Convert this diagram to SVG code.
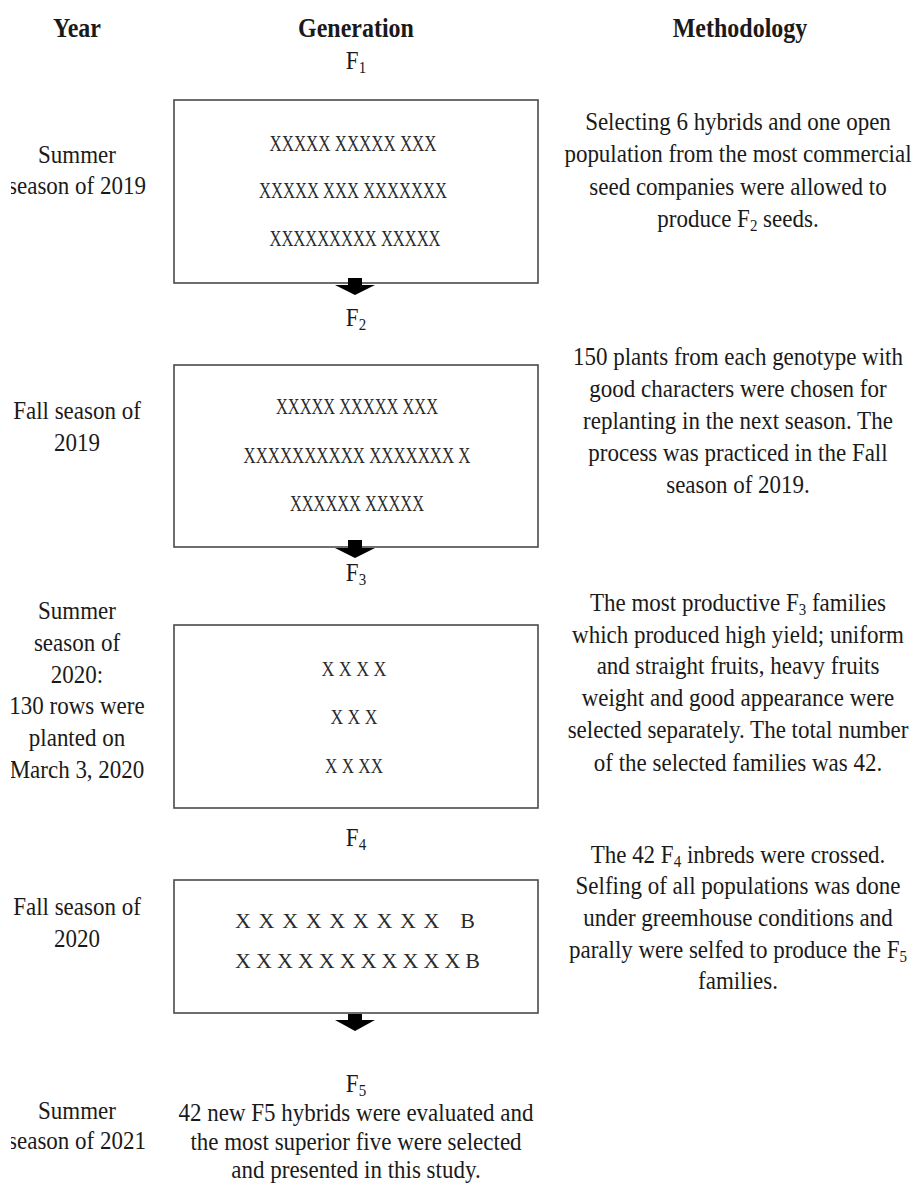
<svg xmlns="http://www.w3.org/2000/svg" width="918" height="1184" viewBox="0 0 918 1184">
<defs>
<style>
text{font-family:"Liberation Serif","Times New Roman",serif;fill:#1a1a1a}
.h{font-size:24px;font-weight:bold;text-anchor:middle;transform-box:fill-box;transform-origin:50% 50%;transform:scaleY(1.12)}
.t{font-size:23px;text-anchor:middle;transform-box:fill-box;transform-origin:50% 50%;transform:scaleY(1.1)}
.s{font-size:15px}
.x{font-size:21px;text-anchor:middle;fill:#2a2a2a;transform-box:fill-box;transform-origin:50% 50%;transform:scaleY(1.08)}
.x3{font-size:20px;text-anchor:middle;fill:#2a2a2a;transform-box:fill-box;transform-origin:50% 50%;transform:scaleY(1.1)}
.x4{font-size:22px;fill:#2a2a2a}
.box{fill:#fff;stroke:#4a4a4a;stroke-width:1.6}
.arr{fill:#000}
</style>
<clipPath id="leftclip"><rect x="11" y="0" width="200" height="1184"/></clipPath>
</defs>
<rect width="918" height="1184" fill="#fff"/>

<g id="headers">
<text class="h" x="77" y="36">Year</text>
<text class="h" x="356" y="36">Generation</text>
<text class="h" x="740" y="36">Methodology</text>
</g>

<g id="gen-labels">
<text class="t" x="356" y="68">F<tspan class="s" dy="4">1</tspan></text>
<text class="t" x="356" y="325">F<tspan class="s" dy="4">2</tspan></text>
<text class="t" x="356" y="580">F<tspan class="s" dy="4">3</tspan></text>
<text class="t" x="356" y="845">F<tspan class="s" dy="4">4</tspan></text>
<text class="t" x="356" y="1091">F<tspan class="s" dy="4">5</tspan></text>
</g>

<g id="year-labels" clip-path="url(#leftclip)">
<text class="t" x="77" y="162">Summer</text>
<text class="t" x="77" y="193">season of 2019</text>
<text class="t" x="77" y="418">Fall season of</text>
<text class="t" x="77" y="450">2019</text>
<text class="t" x="77" y="618">Summer</text>
<text class="t" x="77" y="650">season of</text>
<text class="t" x="77" y="682">2020:</text>
<text class="t" x="77" y="713">130 rows were</text>
<text class="t" x="77" y="745">planted on</text>
<text class="t" x="77" y="777">March 3, 2020</text>
<text class="t" x="77" y="914">Fall season of</text>
<text class="t" x="77" y="946">2020</text>
<text class="t" x="77" y="1118">Summer</text>
<text class="t" x="77" y="1148">season of 2021</text>
</g>

<g id="box1">
<rect class="box" x="174" y="100" width="364" height="183"/>
<text class="x" x="353" y="150" textLength="167" lengthAdjust="spacingAndGlyphs">XXXXX XXXXX XXX</text>
<text class="x" x="353" y="197" textLength="188" lengthAdjust="spacingAndGlyphs">XXXXX XXX XXXXXXX</text>
<text class="x" x="355" y="245" textLength="171" lengthAdjust="spacingAndGlyphs">XXXXXXXXX XXXXX</text>
</g>

<g id="box2">
<rect class="box" x="174" y="365" width="364" height="182"/>
<text class="x" x="357" y="413" textLength="162" lengthAdjust="spacingAndGlyphs">XXXXX XXXXX XXX</text>
<text class="x" x="357" y="462" textLength="227" lengthAdjust="spacingAndGlyphs">XXXXXXXXXX XXXXXXX  X</text>
<text class="x" x="357" y="510" textLength="134" lengthAdjust="spacingAndGlyphs">XXXXXX XXXXX</text>
</g>

<g id="box3">
<rect class="box" x="174" y="625" width="364" height="183"/>
<text class="x3" x="354" y="675" textLength="65" lengthAdjust="spacingAndGlyphs">X X X X</text>
<text class="x3" x="354" y="723" textLength="47" lengthAdjust="spacingAndGlyphs">X X X</text>
<text class="x3" x="354" y="772" textLength="58" lengthAdjust="spacingAndGlyphs">X X XX</text>
</g>

<g id="box4">
<rect class="box" x="174" y="880" width="364" height="133"/>
<text class="x4" x="235" y="928" textLength="240">XXXXXXXXX  B</text>
<text class="x4" x="235" y="968" textLength="245">XXXXXXXXXXXB</text>
</g>

<g id="connectors">
<path class="arr" d="M348,278 H362 V285 H375 L355,295 L335,285 H348 Z"/>
<path class="arr" d="M348,540 H362 V548 H375 L355,558 L335,548 H348 Z"/>
<path class="arr" d="M348,1014 H362 V1020 H375 L355,1031 L335,1020 H348 Z"/>
</g>

<g id="method1">
<text class="t" x="738" y="129">Selecting 6 hybrids and one open</text>
<text class="t" x="738" y="161">population from the most commercial</text>
<text class="t" x="738" y="194">seed companies were allowed to</text>
<text class="t" x="738" y="226">produce F<tspan class="s" dy="4">2</tspan><tspan dy="-4"> seeds.</tspan></text>
</g>

<g id="method2">
<text class="t" x="738" y="364">150 plants from each genotype with</text>
<text class="t" x="738" y="396">good characters were chosen for</text>
<text class="t" x="738" y="428">replanting in the next season. The</text>
<text class="t" x="738" y="460">process was practiced in the Fall</text>
<text class="t" x="738" y="492">season of 2019.</text>
</g>

<g id="method3">
<text class="t" x="738" y="610">The most productive F<tspan class="s" dy="4">3</tspan><tspan dy="-4"> families</tspan></text>
<text class="t" x="738" y="642">which produced high yield; uniform</text>
<text class="t" x="738" y="673">and straight fruits, heavy fruits</text>
<text class="t" x="738" y="705">weight and good appearance were</text>
<text class="t" x="738" y="737">selected separately. The total number</text>
<text class="t" x="738" y="770">of the selected families was 42.</text>
</g>

<g id="method4">
<text class="t" x="738" y="862">The 42 F<tspan class="s" dy="4">4</tspan><tspan dy="-4"> inbreds were crossed.</tspan></text>
<text class="t" x="738" y="893">Selfing of all populations was done</text>
<text class="t" x="738" y="925">under greemhouse conditions and</text>
<text class="t" x="738" y="957">parally were selfed to produce the F<tspan class="s" dy="4">5</tspan></text>
<text class="t" x="738" y="988">families.</text>
</g>

<g id="result">
<text class="t" x="356" y="1120">42 new F5 hybrids were evaluated and</text>
<text class="t" x="356" y="1149">the most superior five were selected</text>
<text class="t" x="356" y="1177">and presented in this study.</text>
</g>
</svg>
